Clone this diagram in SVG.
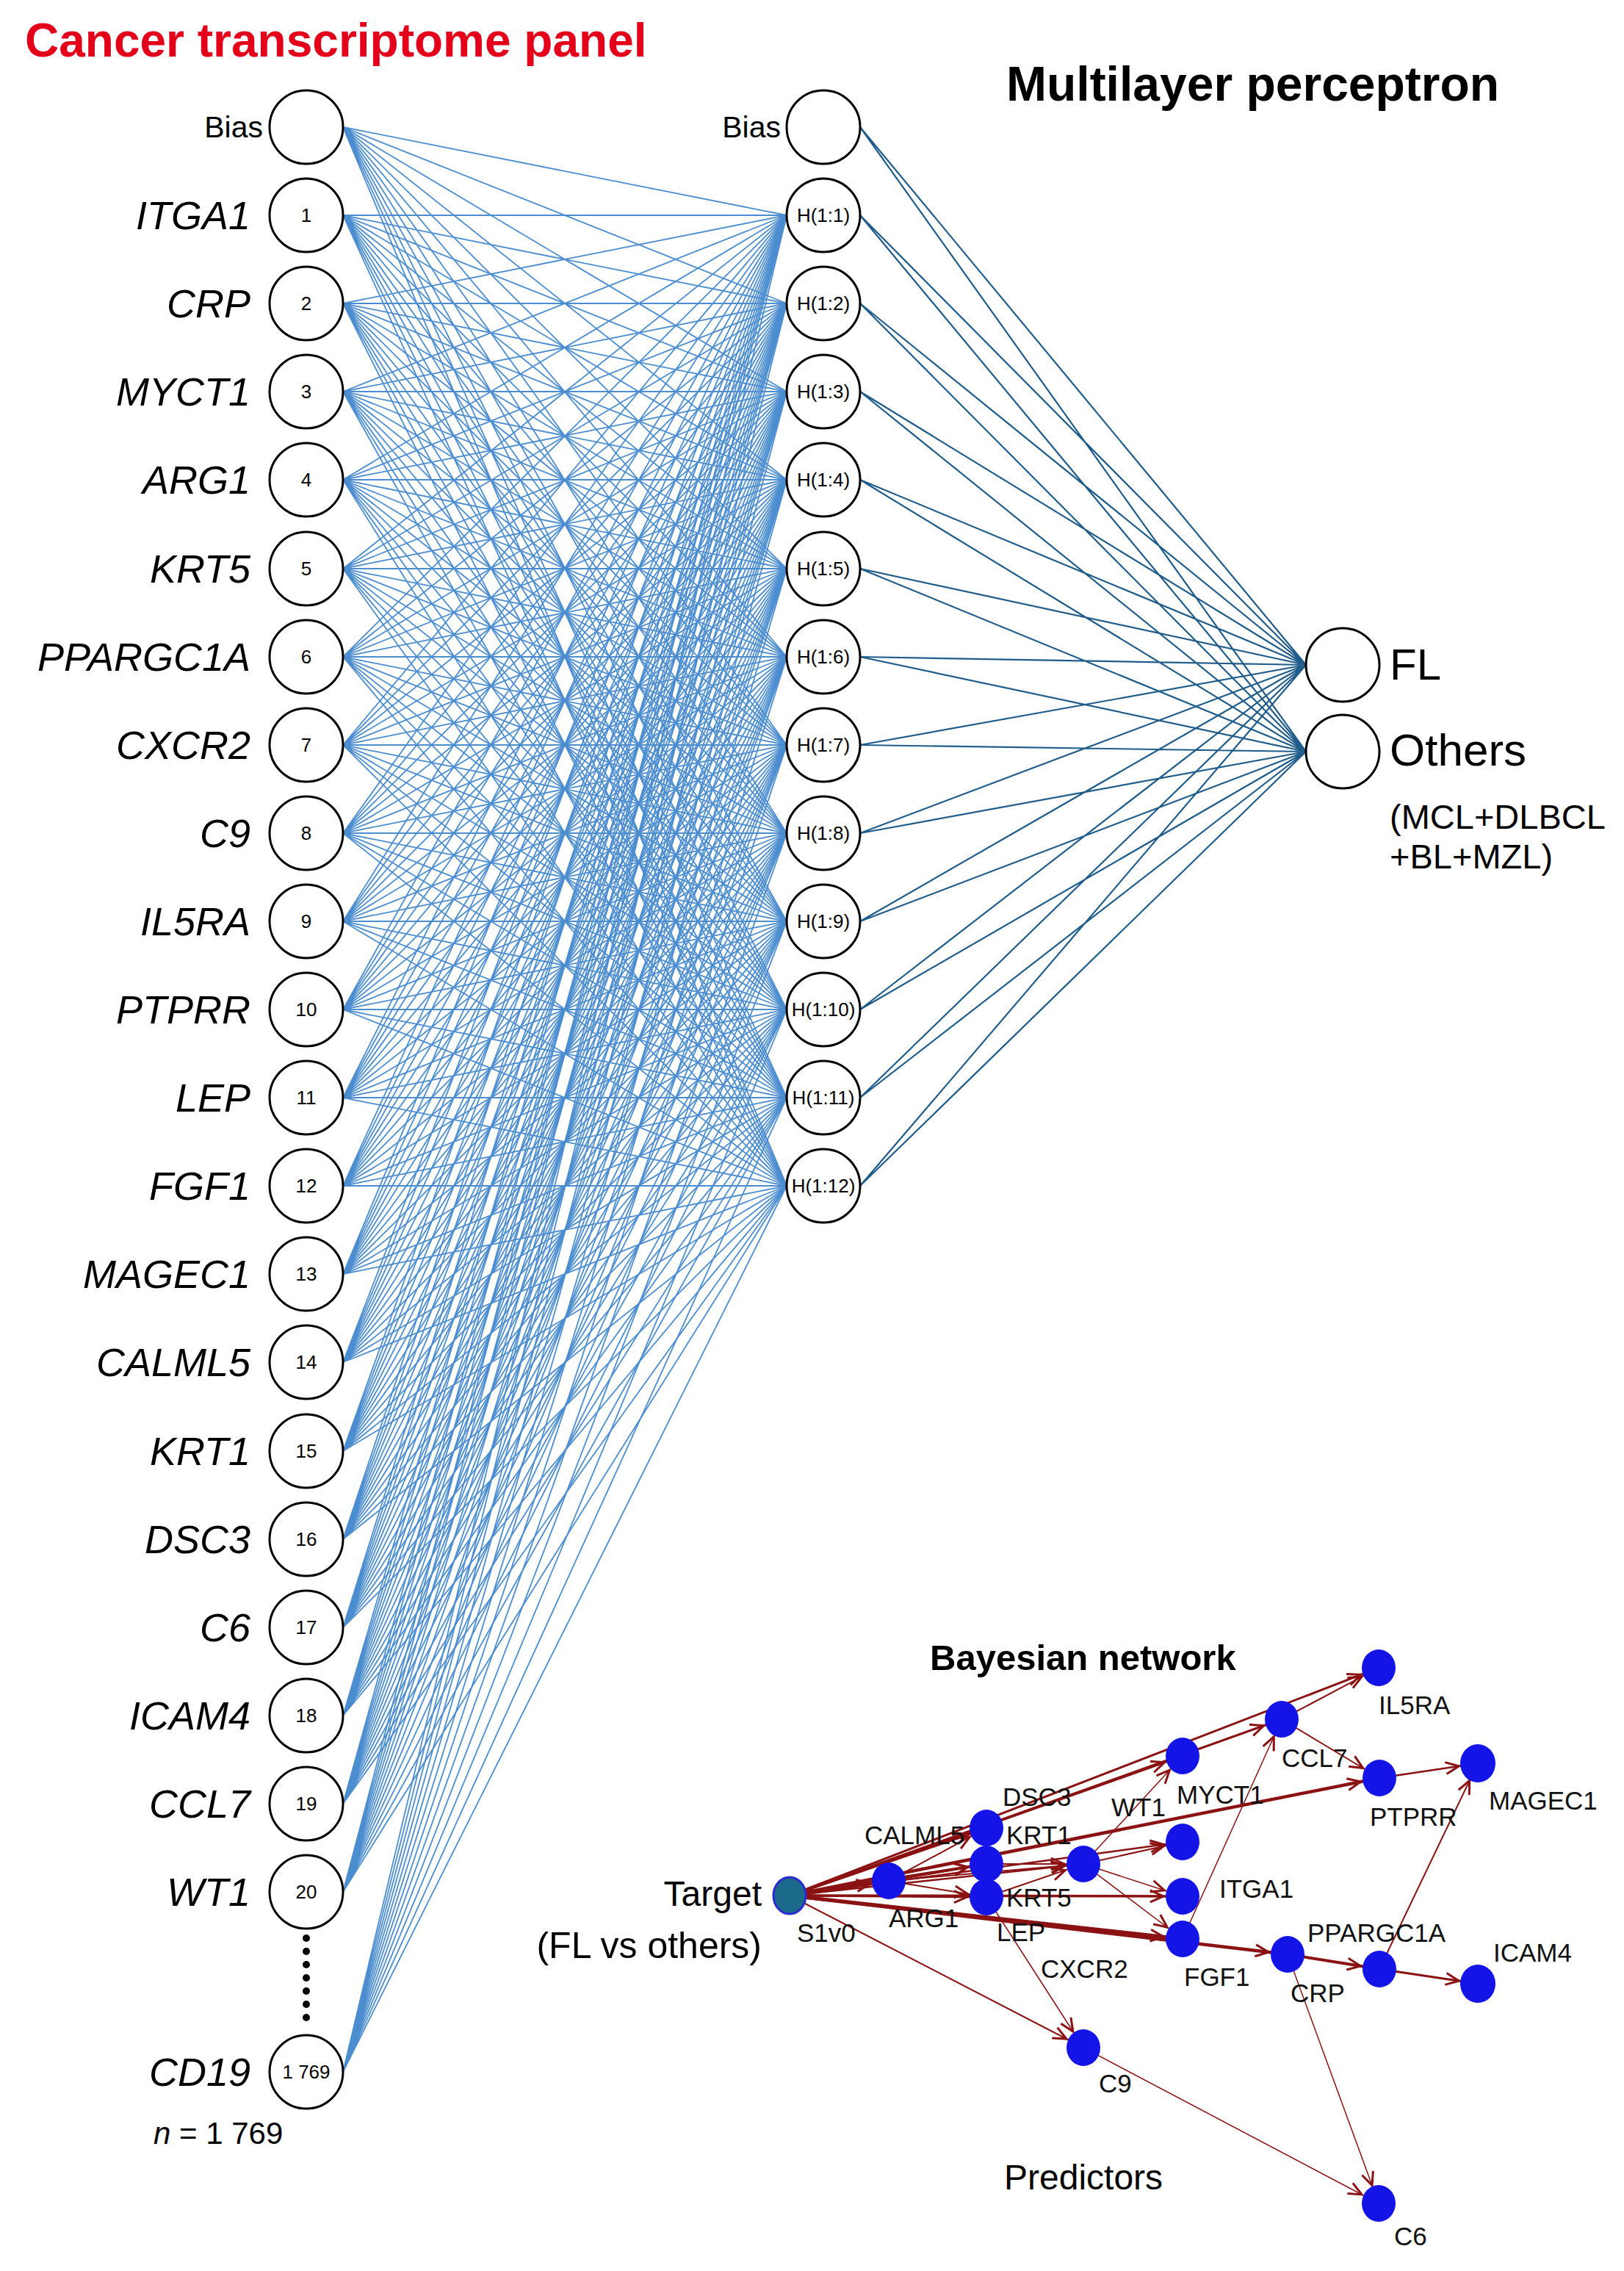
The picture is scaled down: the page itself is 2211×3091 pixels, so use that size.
<svg xmlns="http://www.w3.org/2000/svg" width="2211" height="3091" viewBox="0 0 2211 3091">
<style>
.c{fill:#fff;stroke:#000;stroke-width:3}
.gl{font-family:"Liberation Sans",Arial,sans-serif;font-style:italic;font-size:54px;text-anchor:end;fill:#000}
.num{font-family:"Liberation Sans",Arial,sans-serif;font-size:26px;text-anchor:middle;fill:#000}
.lbl{font-family:"Liberation Sans",Arial,sans-serif;fill:#000}
.bn{font-family:"Liberation Sans",Arial,sans-serif;font-size:35px;fill:#111}
.bnode{fill:#1414e6}
.ih{stroke:#4c8dd0;stroke-width:1.8;fill:none}
.ho{stroke:#1f5c8a;stroke-width:2.2;fill:none}
.e{stroke:#8a1212;fill:none;marker-end:url(#arr)}
</style>
<defs>
<marker id="arr" markerUnits="userSpaceOnUse" markerWidth="60" markerHeight="24" viewBox="-45 -12 60 24" refX="0" refY="0" orient="auto" overflow="visible">
<path d="M-44,-8 L-26,0 L-44,8" fill="none" stroke="#8a1212" stroke-width="3"/>
</marker>
</defs>
<rect width="2211" height="3091" fill="#fff"/>

<g id="titles">
<text x="34" y="77" font-family="Liberation Sans,Arial,sans-serif" font-weight="bold" font-size="64" fill="#e3001b">Cancer transcriptome panel</text>
<text x="1370" y="137" font-family="Liberation Sans,Arial,sans-serif" font-weight="bold" font-size="66" fill="#000">Multilayer perceptron</text>
<text x="1266" y="2273" font-family="Liberation Sans,Arial,sans-serif" font-weight="bold" font-size="49" fill="#000">Bayesian network</text>
</g>

<g id="connectors">
<g id="mlp-input-hidden" class="ih">
<path d="M467 173L1071 293M467 173L1071 413M467 173L1071 533M467 173L1071 653M467 173L1071 774M467 173L1071 894M467 173L1071 1014M467 173L1071 1134M467 173L1071 1254M467 173L1071 1374M467 173L1071 1494M467 173L1071 1614"/>
<path d="M467 293L1071 293M467 293L1071 413M467 293L1071 533M467 293L1071 653M467 293L1071 774M467 293L1071 894M467 293L1071 1014M467 293L1071 1134M467 293L1071 1254M467 293L1071 1374M467 293L1071 1494M467 293L1071 1614"/>
<path d="M467 413L1071 293M467 413L1071 413M467 413L1071 533M467 413L1071 653M467 413L1071 774M467 413L1071 894M467 413L1071 1014M467 413L1071 1134M467 413L1071 1254M467 413L1071 1374M467 413L1071 1494M467 413L1071 1614"/>
<path d="M467 533L1071 293M467 533L1071 413M467 533L1071 533M467 533L1071 653M467 533L1071 774M467 533L1071 894M467 533L1071 1014M467 533L1071 1134M467 533L1071 1254M467 533L1071 1374M467 533L1071 1494M467 533L1071 1614"/>
<path d="M467 653L1071 293M467 653L1071 413M467 653L1071 533M467 653L1071 653M467 653L1071 774M467 653L1071 894M467 653L1071 1014M467 653L1071 1134M467 653L1071 1254M467 653L1071 1374M467 653L1071 1494M467 653L1071 1614"/>
<path d="M467 774L1071 293M467 774L1071 413M467 774L1071 533M467 774L1071 653M467 774L1071 774M467 774L1071 894M467 774L1071 1014M467 774L1071 1134M467 774L1071 1254M467 774L1071 1374M467 774L1071 1494M467 774L1071 1614"/>
<path d="M467 894L1071 293M467 894L1071 413M467 894L1071 533M467 894L1071 653M467 894L1071 774M467 894L1071 894M467 894L1071 1014M467 894L1071 1134M467 894L1071 1254M467 894L1071 1374M467 894L1071 1494M467 894L1071 1614"/>
<path d="M467 1014L1071 293M467 1014L1071 413M467 1014L1071 533M467 1014L1071 653M467 1014L1071 774M467 1014L1071 894M467 1014L1071 1014M467 1014L1071 1134M467 1014L1071 1254M467 1014L1071 1374M467 1014L1071 1494M467 1014L1071 1614"/>
<path d="M467 1134L1071 293M467 1134L1071 413M467 1134L1071 533M467 1134L1071 653M467 1134L1071 774M467 1134L1071 894M467 1134L1071 1014M467 1134L1071 1134M467 1134L1071 1254M467 1134L1071 1374M467 1134L1071 1494M467 1134L1071 1614"/>
<path d="M467 1254L1071 293M467 1254L1071 413M467 1254L1071 533M467 1254L1071 653M467 1254L1071 774M467 1254L1071 894M467 1254L1071 1014M467 1254L1071 1134M467 1254L1071 1254M467 1254L1071 1374M467 1254L1071 1494M467 1254L1071 1614"/>
<path d="M467 1374L1071 293M467 1374L1071 413M467 1374L1071 533M467 1374L1071 653M467 1374L1071 774M467 1374L1071 894M467 1374L1071 1014M467 1374L1071 1134M467 1374L1071 1254M467 1374L1071 1374M467 1374L1071 1494M467 1374L1071 1614"/>
<path d="M467 1494L1071 293M467 1494L1071 413M467 1494L1071 533M467 1494L1071 653M467 1494L1071 774M467 1494L1071 894M467 1494L1071 1014M467 1494L1071 1134M467 1494L1071 1254M467 1494L1071 1374M467 1494L1071 1494M467 1494L1071 1614"/>
<path d="M467 1614L1071 293M467 1614L1071 413M467 1614L1071 533M467 1614L1071 653M467 1614L1071 774M467 1614L1071 894M467 1614L1071 1014M467 1614L1071 1134M467 1614L1071 1254M467 1614L1071 1374M467 1614L1071 1494M467 1614L1071 1614"/>
<path d="M467 1734L1071 293M467 1734L1071 413M467 1734L1071 533M467 1734L1071 653M467 1734L1071 774M467 1734L1071 894M467 1734L1071 1014M467 1734L1071 1134M467 1734L1071 1254M467 1734L1071 1374M467 1734L1071 1494M467 1734L1071 1614"/>
<path d="M467 1854L1071 293M467 1854L1071 413M467 1854L1071 533M467 1854L1071 653M467 1854L1071 774M467 1854L1071 894M467 1854L1071 1014M467 1854L1071 1134M467 1854L1071 1254M467 1854L1071 1374M467 1854L1071 1494M467 1854L1071 1614"/>
<path d="M467 1975L1071 293M467 1975L1071 413M467 1975L1071 533M467 1975L1071 653M467 1975L1071 774M467 1975L1071 894M467 1975L1071 1014M467 1975L1071 1134M467 1975L1071 1254M467 1975L1071 1374M467 1975L1071 1494M467 1975L1071 1614"/>
<path d="M467 2095L1071 293M467 2095L1071 413M467 2095L1071 533M467 2095L1071 653M467 2095L1071 774M467 2095L1071 894M467 2095L1071 1014M467 2095L1071 1134M467 2095L1071 1254M467 2095L1071 1374M467 2095L1071 1494M467 2095L1071 1614"/>
<path d="M467 2215L1071 293M467 2215L1071 413M467 2215L1071 533M467 2215L1071 653M467 2215L1071 774M467 2215L1071 894M467 2215L1071 1014M467 2215L1071 1134M467 2215L1071 1254M467 2215L1071 1374M467 2215L1071 1494M467 2215L1071 1614"/>
<path d="M467 2335L1071 293M467 2335L1071 413M467 2335L1071 533M467 2335L1071 653M467 2335L1071 774M467 2335L1071 894M467 2335L1071 1014M467 2335L1071 1134M467 2335L1071 1254M467 2335L1071 1374M467 2335L1071 1494M467 2335L1071 1614"/>
<path d="M467 2455L1071 293M467 2455L1071 413M467 2455L1071 533M467 2455L1071 653M467 2455L1071 774M467 2455L1071 894M467 2455L1071 1014M467 2455L1071 1134M467 2455L1071 1254M467 2455L1071 1374M467 2455L1071 1494M467 2455L1071 1614"/>
<path d="M467 2575L1071 293M467 2575L1071 413M467 2575L1071 533M467 2575L1071 653M467 2575L1071 774M467 2575L1071 894M467 2575L1071 1014M467 2575L1071 1134M467 2575L1071 1254M467 2575L1071 1374M467 2575L1071 1494M467 2575L1071 1614"/>
<path d="M467 2820L1071 293M467 2820L1071 413M467 2820L1071 533M467 2820L1071 653M467 2820L1071 774M467 2820L1071 894M467 2820L1071 1014M467 2820L1071 1134M467 2820L1071 1254M467 2820L1071 1374M467 2820L1071 1494M467 2820L1071 1614"/>
</g>
<g id="mlp-hidden-output" class="ho">
<path d="M1171 173L1778 905M1171 173L1778 1023M1171 293L1778 905M1171 293L1778 1023M1171 413L1778 905M1171 413L1778 1023M1171 533L1778 905M1171 533L1778 1023M1171 653L1778 905M1171 653L1778 1023M1171 774L1778 905M1171 774L1778 1023M1171 894L1778 905M1171 894L1778 1023M1171 1014L1778 905M1171 1014L1778 1023M1171 1134L1778 905M1171 1134L1778 1023M1171 1254L1778 905M1171 1254L1778 1023M1171 1374L1778 905M1171 1374L1778 1023M1171 1494L1778 905M1171 1494L1778 1023M1171 1614L1778 905M1171 1614L1778 1023"/>
</g>
<g id="bn-edges">
<line class="e" stroke-width="5" x1="1075" y1="2580" x2="1210" y2="2560"/>
<line class="e" stroke-width="4" x1="1075" y1="2580" x2="1343" y2="2488"/>
<line class="e" stroke-width="4" x1="1075" y1="2580" x2="1343" y2="2537"/>
<line class="e" stroke-width="3" x1="1075" y1="2580" x2="1343" y2="2582"/>
<line class="e" stroke-width="2.5" x1="1075" y1="2580" x2="1475" y2="2537"/>
<line class="e" stroke-width="2.5" x1="1075" y1="2580" x2="1610" y2="2507"/>
<line class="e" stroke-width="3.5" x1="1075" y1="2580" x2="1610" y2="2581"/>
<line class="e" stroke-width="3" x1="1075" y1="2580" x2="1610" y2="2390"/>
<line class="e" stroke-width="3" x1="1075" y1="2580" x2="1745" y2="2340"/>
<line class="e" stroke-width="3" x1="1075" y1="2580" x2="1877" y2="2270"/>
<line class="e" stroke-width="4.5" x1="1075" y1="2580" x2="1878" y2="2420"/>
<line class="e" stroke-width="5" x1="1075" y1="2580" x2="1610" y2="2639"/>
<line class="e" stroke-width="4.5" x1="1075" y1="2580" x2="1753" y2="2660"/>
<line class="e" stroke-width="2" x1="1075" y1="2580" x2="1475" y2="2787"/>
<line class="e" stroke-width="2" x1="1210" y1="2560" x2="1343" y2="2488"/>
<line class="e" stroke-width="2.5" x1="1210" y1="2560" x2="1343" y2="2537"/>
<line class="e" stroke-width="2" x1="1210" y1="2560" x2="1343" y2="2582"/>
<line class="e" stroke-width="2" x1="1210" y1="2560" x2="1475" y2="2537"/>
<line class="e" stroke-width="2" x1="1343" y1="2537" x2="1475" y2="2537"/>
<line class="e" stroke-width="2" x1="1343" y1="2582" x2="1475" y2="2537"/>
<line class="e" stroke-width="1.5" x1="1343" y1="2582" x2="1475" y2="2787"/>
<line class="e" stroke-width="1.5" x1="1475" y1="2537" x2="1610" y2="2390"/>
<line class="e" stroke-width="2" x1="1475" y1="2537" x2="1610" y2="2507"/>
<line class="e" stroke-width="1.5" x1="1475" y1="2537" x2="1610" y2="2581"/>
<line class="e" stroke-width="1.5" x1="1475" y1="2537" x2="1610" y2="2639"/>
<line class="e" stroke-width="1.5" x1="1610" y1="2639" x2="1745" y2="2340"/>
<line class="e" stroke-width="2" x1="1745" y1="2340" x2="1878" y2="2420"/>
<line class="e" stroke-width="2" x1="1745" y1="2340" x2="1877" y2="2270"/>
<line class="e" stroke-width="2.5" x1="1878" y1="2420" x2="2012" y2="2400"/>
<line class="e" stroke-width="2" x1="1878" y1="2680" x2="2012" y2="2400"/>
<line class="e" stroke-width="4" x1="1753" y1="2660" x2="1878" y2="2680"/>
<line class="e" stroke-width="3" x1="1878" y1="2680" x2="2012" y2="2700"/>
<line class="e" stroke-width="1.5" x1="1753" y1="2660" x2="1877" y2="2999"/>
<line class="e" stroke-width="1.5" x1="1475" y1="2787" x2="1877" y2="2999"/>
</g>
</g>

<g id="input-layer">
<g id="in-bias"><circle class="c" cx="417" cy="173" r="50"/><text class="lbl" x="358" y="187" font-size="41" text-anchor="end">Bias</text></g>
<g id="in-1"><circle class="c" cx="417" cy="293" r="50"/><text class="num" x="417" y="302">1</text><text class="gl" x="341" y="312">ITGA1</text></g>
<g id="in-2"><circle class="c" cx="417" cy="413" r="50"/><text class="num" x="417" y="422">2</text><text class="gl" x="341" y="432">CRP</text></g>
<g id="in-3"><circle class="c" cx="417" cy="533" r="50"/><text class="num" x="417" y="542">3</text><text class="gl" x="341" y="552">MYCT1</text></g>
<g id="in-4"><circle class="c" cx="417" cy="653" r="50"/><text class="num" x="417" y="662">4</text><text class="gl" x="341" y="672">ARG1</text></g>
<g id="in-5"><circle class="c" cx="417" cy="774" r="50"/><text class="num" x="417" y="783">5</text><text class="gl" x="341" y="793">KRT5</text></g>
<g id="in-6"><circle class="c" cx="417" cy="894" r="50"/><text class="num" x="417" y="903">6</text><text class="gl" x="341" y="913">PPARGC1A</text></g>
<g id="in-7"><circle class="c" cx="417" cy="1014" r="50"/><text class="num" x="417" y="1023">7</text><text class="gl" x="341" y="1033">CXCR2</text></g>
<g id="in-8"><circle class="c" cx="417" cy="1134" r="50"/><text class="num" x="417" y="1143">8</text><text class="gl" x="341" y="1153">C9</text></g>
<g id="in-9"><circle class="c" cx="417" cy="1254" r="50"/><text class="num" x="417" y="1263">9</text><text class="gl" x="341" y="1273">IL5RA</text></g>
<g id="in-10"><circle class="c" cx="417" cy="1374" r="50"/><text class="num" x="417" y="1383">10</text><text class="gl" x="341" y="1393">PTPRR</text></g>
<g id="in-11"><circle class="c" cx="417" cy="1494" r="50"/><text class="num" x="417" y="1503">11</text><text class="gl" x="341" y="1513">LEP</text></g>
<g id="in-12"><circle class="c" cx="417" cy="1614" r="50"/><text class="num" x="417" y="1623">12</text><text class="gl" x="341" y="1633">FGF1</text></g>
<g id="in-13"><circle class="c" cx="417" cy="1734" r="50"/><text class="num" x="417" y="1743">13</text><text class="gl" x="341" y="1753">MAGEC1</text></g>
<g id="in-14"><circle class="c" cx="417" cy="1854" r="50"/><text class="num" x="417" y="1863">14</text><text class="gl" x="341" y="1873">CALML5</text></g>
<g id="in-15"><circle class="c" cx="417" cy="1975" r="50"/><text class="num" x="417" y="1984">15</text><text class="gl" x="341" y="1994">KRT1</text></g>
<g id="in-16"><circle class="c" cx="417" cy="2095" r="50"/><text class="num" x="417" y="2104">16</text><text class="gl" x="341" y="2114">DSC3</text></g>
<g id="in-17"><circle class="c" cx="417" cy="2215" r="50"/><text class="num" x="417" y="2224">17</text><text class="gl" x="341" y="2234">C6</text></g>
<g id="in-18"><circle class="c" cx="417" cy="2335" r="50"/><text class="num" x="417" y="2344">18</text><text class="gl" x="341" y="2354">ICAM4</text></g>
<g id="in-19"><circle class="c" cx="417" cy="2455" r="50"/><text class="num" x="417" y="2464">19</text><text class="gl" x="341" y="2474">CCL7</text></g>
<g id="in-20"><circle class="c" cx="417" cy="2575" r="50"/><text class="num" x="417" y="2584">20</text><text class="gl" x="341" y="2594">WT1</text></g>
<g id="ellipsis" fill="#000">
<circle cx="417" cy="2638" r="5"/><circle cx="417" cy="2656" r="5"/><circle cx="417" cy="2674" r="5"/><circle cx="417" cy="2692" r="5"/><circle cx="417" cy="2710" r="5"/><circle cx="417" cy="2728" r="5"/><circle cx="417" cy="2746" r="5"/>
</g>
<g id="in-1769"><circle class="c" cx="417" cy="2820" r="50"/><text class="num" x="417" y="2829">1 769</text><text class="gl" x="341" y="2839">CD19</text></g>
<text class="lbl" x="209" y="2918" font-size="42"><tspan font-style="italic">n</tspan> = 1 769</text>
</g>

<g id="hidden-layer">
<g id="h-bias"><circle class="c" cx="1121" cy="173" r="50"/><text class="lbl" x="1063" y="187" font-size="41" text-anchor="end">Bias</text></g>
<g id="h-1"><circle class="c" cx="1121" cy="293" r="50"/><text class="num" x="1121" y="302">H(1:1)</text></g>
<g id="h-2"><circle class="c" cx="1121" cy="413" r="50"/><text class="num" x="1121" y="422">H(1:2)</text></g>
<g id="h-3"><circle class="c" cx="1121" cy="533" r="50"/><text class="num" x="1121" y="542">H(1:3)</text></g>
<g id="h-4"><circle class="c" cx="1121" cy="653" r="50"/><text class="num" x="1121" y="662">H(1:4)</text></g>
<g id="h-5"><circle class="c" cx="1121" cy="774" r="50"/><text class="num" x="1121" y="783">H(1:5)</text></g>
<g id="h-6"><circle class="c" cx="1121" cy="894" r="50"/><text class="num" x="1121" y="903">H(1:6)</text></g>
<g id="h-7"><circle class="c" cx="1121" cy="1014" r="50"/><text class="num" x="1121" y="1023">H(1:7)</text></g>
<g id="h-8"><circle class="c" cx="1121" cy="1134" r="50"/><text class="num" x="1121" y="1143">H(1:8)</text></g>
<g id="h-9"><circle class="c" cx="1121" cy="1254" r="50"/><text class="num" x="1121" y="1263">H(1:9)</text></g>
<g id="h-10"><circle class="c" cx="1121" cy="1374" r="50"/><text class="num" x="1121" y="1383">H(1:10)</text></g>
<g id="h-11"><circle class="c" cx="1121" cy="1494" r="50"/><text class="num" x="1121" y="1503">H(1:11)</text></g>
<g id="h-12"><circle class="c" cx="1121" cy="1614" r="50"/><text class="num" x="1121" y="1623">H(1:12)</text></g>
</g>

<g id="output-layer">
<g id="out-fl"><circle class="c" cx="1828" cy="905" r="50"/><text class="lbl" x="1892" y="925" font-size="60">FL</text></g>
<g id="out-others"><circle class="c" cx="1828" cy="1023" r="50"/><text class="lbl" x="1892" y="1042" font-size="62">Others</text>
<text class="lbl" x="1892" y="1128" font-size="47">(MCL+DLBCL</text>
<text class="lbl" x="1892" y="1182" font-size="47">+BL+MZL)</text></g>
</g>

<g id="bayesian-network">
<g id="bn-target"><ellipse cx="1075" cy="2580" rx="22" ry="25" fill="#1b6a8b" stroke="#2a2ad0" stroke-width="3"/><text class="bn" x="1085" y="2643">S1v0</text>
<text class="lbl" x="1037" y="2594" font-size="48" text-anchor="end">Target</text>
<text class="lbl" x="1037" y="2665" font-size="50" text-anchor="end">(FL vs others)</text></g>
<g id="bn-calml5"><ellipse class="bnode" cx="1210" cy="2560" rx="23" ry="25"/><text class="bn" x="1177" y="2510">CALML5</text></g>
<g id="bn-dsc3"><ellipse class="bnode" cx="1343" cy="2488" rx="23" ry="25"/><text class="bn" x="1365" y="2458">DSC3</text></g>
<g id="bn-krt1"><ellipse class="bnode" cx="1343" cy="2537" rx="23" ry="25"/><text class="bn" x="1370" y="2510">KRT1</text></g>
<g id="bn-krt5"><ellipse class="bnode" cx="1343" cy="2582" rx="23" ry="25"/><text class="bn" x="1370" y="2595">KRT5</text></g>
<g id="bn-arg1"><text class="bn" x="1210" y="2623">ARG1</text></g>
<g id="bn-lep"><text class="bn" x="1357" y="2642">LEP</text></g>
<g id="bn-cxcr2"><text class="bn" x="1417" y="2692">CXCR2</text></g>
<g id="bn-wt1"><ellipse class="bnode" cx="1475" cy="2537" rx="23" ry="25"/><text class="bn" x="1513" y="2472">WT1</text></g>
<g id="bn-myct1"><ellipse class="bnode" cx="1610" cy="2390" rx="23" ry="25"/><text class="bn" x="1602" y="2455">MYCT1</text></g>
<g id="bn-node-2507"><ellipse class="bnode" cx="1610" cy="2507" rx="23" ry="25"/></g>
<g id="bn-itga1"><ellipse class="bnode" cx="1610" cy="2581" rx="23" ry="25"/><text class="bn" x="1660" y="2583">ITGA1</text></g>
<g id="bn-fgf1"><ellipse class="bnode" cx="1610" cy="2639" rx="23" ry="25"/><text class="bn" x="1612" y="2703">FGF1</text></g>
<g id="bn-ccl7"><ellipse class="bnode" cx="1745" cy="2340" rx="23" ry="25"/><text class="bn" x="1745" y="2405">CCL7</text></g>
<g id="bn-il5ra"><ellipse class="bnode" cx="1877" cy="2270" rx="23" ry="25"/><text class="bn" x="1877" y="2333">IL5RA</text></g>
<g id="bn-ptprr"><ellipse class="bnode" cx="1878" cy="2420" rx="23" ry="25"/><text class="bn" x="1865" y="2485">PTPRR</text></g>
<g id="bn-magec1"><ellipse class="bnode" cx="2012" cy="2400" rx="24" ry="26"/><text class="bn" x="2027" y="2463">MAGEC1</text></g>
<g id="bn-crp"><ellipse class="bnode" cx="1753" cy="2660" rx="23" ry="25"/><text class="bn" x="1757" y="2725">CRP</text></g>
<g id="bn-ppargc1a"><ellipse class="bnode" cx="1878" cy="2680" rx="23" ry="25"/><text class="bn" x="1780" y="2643">PPARGC1A</text></g>
<g id="bn-icam4"><ellipse class="bnode" cx="2012" cy="2700" rx="24" ry="26"/><text class="bn" x="2033" y="2670">ICAM4</text></g>
<g id="bn-c9"><ellipse class="bnode" cx="1475" cy="2787" rx="23" ry="25"/><text class="bn" x="1496" y="2848">C9</text></g>
<g id="bn-c6"><ellipse class="bnode" cx="1877" cy="2999" rx="23" ry="25"/><text class="bn" x="1898" y="3056">C6</text></g>
<text class="lbl" x="1367" y="2980" font-size="48">Predictors</text>
</g>
</svg>
